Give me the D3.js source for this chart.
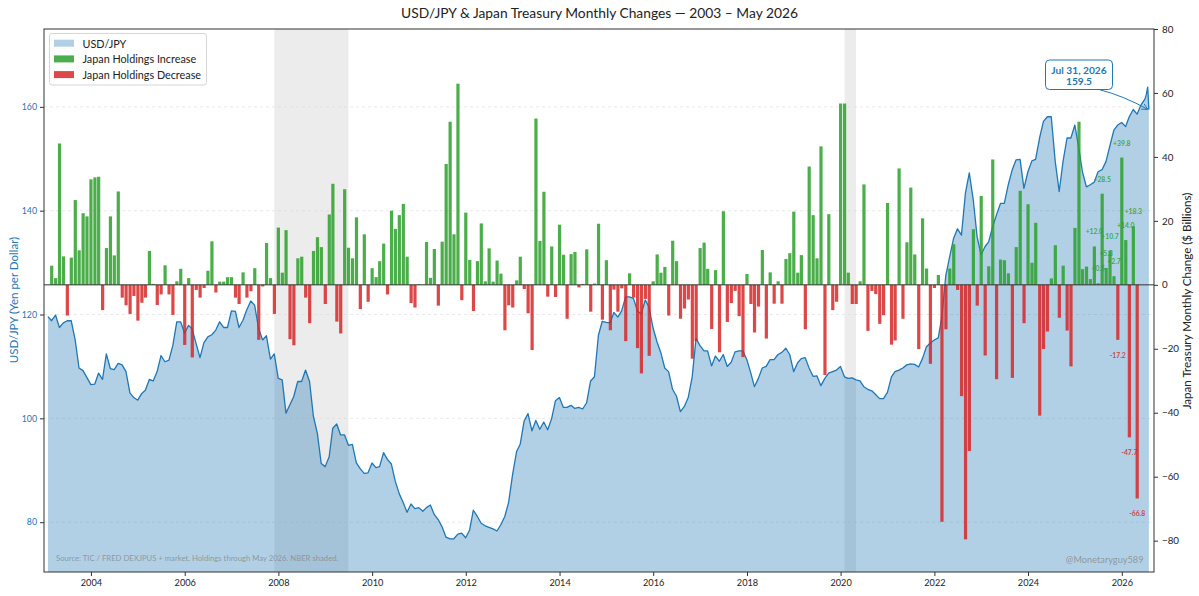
<!DOCTYPE html>
<html>
<head>
<meta charset="utf-8">
<script src="https://cdn.jsdelivr.net/npm/d3@7"></script>
<style>
  body { margin: 0; background: #fff; }
  svg { display: block; }
  text { font-family: Lato, "Noto Sans", sans-serif; }
</style>
</head>
<body>
<div id="chart"></div>
<script>
// USD/JPY month-end closes, Jan 2003 .. Jul 2026
var usdjpy = [
  119.6,118.8,119.9,117.5,118.4,118.8,118.8,115.1,109.7,109.2,107.9,106.5,
  106.6,108.7,107.5,112.4,109.6,109.4,110.6,110.3,109.0,104.9,104.0,103.5,
  104.8,105.4,107.5,107.2,109.0,112.1,110.9,111.2,114.0,118.6,118.6,116.4,
  117.9,117.2,114.4,111.7,114.6,115.7,116.1,117.0,118.6,117.5,117.5,120.7,
  120.6,117.5,118.9,120.9,122.6,121.8,117.3,115.1,115.9,111.4,112.4,107.7,
  107.4,101.0,102.6,104.2,107.1,107.1,109.3,107.1,100.4,97.1,91.3,90.7,
  92.6,98.1,98.9,96.8,96.8,94.8,95.0,91.4,90.3,89.4,89.5,91.4,
  90.5,90.7,93.4,92.1,91.2,87.9,85.5,83.8,81.9,83.5,82.6,82.8,
  82.1,82.8,83.3,81.5,80.5,79.1,77.1,76.8,76.8,77.7,77.9,77.0,
  78.5,82.3,81.1,79.8,79.3,79.0,78.7,78.3,79.5,81.1,83.8,89.2,
  93.6,95.0,99.5,100.9,97.6,99.6,97.9,99.3,97.8,99.9,103.4,104.0,
  102.1,102.1,102.5,101.9,102.1,101.8,103.0,107.2,108.0,116.0,118.7,118.5,
  118.4,120.4,119.5,120.7,123.4,123.4,123.1,120.7,120.1,122.8,121.4,117.4,
  114.7,112.7,109.7,109.0,105.6,104.3,101.3,102.3,104.0,108.0,115.4,114.0,
  113.0,113.0,110.1,112.0,111.0,112.3,110.0,110.8,112.8,113.0,113.0,111.3,
  108.7,106.1,107.7,109.7,110.0,111.3,111.3,112.3,112.7,113.5,112.3,109.0,
  110.7,111.5,111.7,109.7,108.1,108.2,106.3,107.7,108.7,109.0,109.3,110.0,
  108.0,107.7,107.8,107.4,107.2,106.1,105.6,105.3,104.6,103.8,103.8,105.0,
  108.0,109.0,109.3,109.7,110.3,110.5,110.4,109.9,111.5,113.8,114.5,115.1,
  115.5,119.5,127.5,131.1,134.7,136.5,135.3,143.4,147.3,142.1,135.0,131.5,
  133.1,134.0,136.9,139.2,141.4,141.4,145.0,147.9,149.8,149.9,144.3,147.5,
  149.6,149.9,154.0,157.2,158.1,158.1,149.5,143.7,149.5,154.0,154.0,156.5,
  152.0,147.5,144.6,145.0,145.5,147.5,147.9,149.5,152.5,155.5,156.5,157.0,
  156.2,158.1,159.5,158.6,160.4,161.5,159.5
];
// intra-month market prints, July 2026
var usdjpyJulyDates = ["2026-07-10", "2026-07-22"];
var usdjpyJulyValues = [162.3, 163.8];

// Japan holdings monthly change ($bn), Mar 2003 .. May 2026
var holdingsChange = [
  6.0,2.1,44.2,8.9,-9.6,8.5,26.5,10.8,22.4,21.4,
  33.0,33.6,33.8,-7.9,11.5,21.4,9.2,29.2,-4.0,-6.4,-9.1,-3.5,
  -11.2,-5.6,-4.0,10.6,0.3,-6.3,-3.0,6.1,-3.0,-9.4,1.1,5.0,
  -18.8,2.1,-22.7,-1.6,-4.0,-1.0,4.4,13.6,-2.4,1.0,1.0,2.4,
  2.4,-4.0,-6.0,3.9,-4.0,-2.0,5.2,-17.2,-0.5,13.1,2.1,-9.1,
  17.9,3.8,17.1,-17.0,-18.9,8.3,8.8,-4.0,-12.0,10.6,14.9,11.8,
  -6.0,22.0,31.6,-11.5,-15.2,29.9,11.6,8.3,21.1,-7.6,15.8,-5.3,
  5.2,2.4,7.4,12.9,-3.0,23.2,17.5,21.8,25.3,8.8,-5.7,-7.1,
  0.2,0.1,13.4,2.2,11.2,-6.5,13.5,37.8,51.0,15.8,62.9,-4.8,
  22.6,7.8,-8.2,7.4,19.2,1.1,11.4,1.0,7.6,3.5,-14.2,-6.4,
  -7.1,1.4,8.8,-1.3,-8.9,-20.4,52.0,13.7,29.1,-3.7,12.0,-3.8,
  18.8,9.4,-10.6,9.6,10.3,-0.8,0.3,11.1,-8.4,0.4,19.1,-10.9,
  7.7,-14.2,-1.5,-8.4,-1.1,-17.6,3.6,-4.0,-19.8,-27.7,-4.4,-22.2,
  1.1,9.5,3.8,5.6,-9.6,13.8,7.4,-10.6,-7.4,-4.6,-23.1,-17.6,
  11.5,13.2,5.0,-13.8,4.6,-21.1,23.0,-11.6,-5.7,-1.9,-9.8,-22.6,
  3.4,-6.0,-14.9,-6.8,10.9,-16.8,3.9,-5.9,1.1,-5.9,8.1,9.9,
  22.9,3.8,9.3,-13.9,37.0,21.8,8.3,43.3,-28.2,22.1,-7.9,-5.3,
  56.7,56.7,3.8,-6.0,-6.0,1.1,31.4,-14.4,-1.9,-2.9,-12.2,-9.5,
  25.6,-18.7,-17.4,36.4,-10.6,13.3,30.4,9.5,-20.1,20.8,5.1,-24.7,
  -1.0,3.1,-74.1,-13.9,5.1,12.7,-1.6,-34.8,-79.6,-52.0,17.4,-6.5,
  27.8,-22.1,5.8,39.2,-29.5,7.9,7.7,3.6,-29.1,11.8,29.4,-12.0,
  25.2,6.9,19.4,-40.9,-20.1,-14.6,2.0,12.4,-10.3,6.0,-14.3,-25.5,
  17.8,51.0,4.9,5.7,1.8,12.0,0.5,28.5,5.3,10.7,2.7,-17.2,
  39.8,14.0,-47.7,18.3,-66.8
];

var recessionStart = ["2007-12-01", "2020-02-01"];
var recessionEnd = ["2009-06-30", "2020-04-30"];
var yearTicks = [2004,2006,2008,2010,2012,2014,2016,2018,2020,2022,2024,2026];
var fxTicks = [80, 100, 120, 140, 160];
var changeTicks = [-80, -60, -40, -20, 0, 20, 40, 60, 80];
var legendLabels = ["USD/JPY", "Japan Holdings Increase", "Japan Holdings Decrease"];
var labelLastN = 12;

var parse = d3.timeParse("%Y-%m-%d");

var width = 1199, height = 596;
var margin = {top: 29, right: 45, bottom: 24, left: 44};
var x0 = margin.left, x1 = width - margin.right;
var yTop = margin.top, yBot = height - margin.bottom;

var blue = "#1f77b4", green = "#2ca02c", red = "#d62728";

var svg = d3.select("#chart").append("svg")
  .attr("width", width)
  .attr("height", height);

var x = d3.scaleTime()
  .domain([new Date(2002, 11, 31), new Date(2026, 8, 9)])
  .range([x0, x1]);
var yFx = d3.scaleLinear().domain([70.4, 175]).range([yBot, yTop]);
var yChg = d3.scaleLinear().domain([-89.8, 80]).range([yBot, yTop]);

// series
var fx = usdjpy.map(function(v, i) { return {date: new Date(2003, i + 1, 0), value: v}; });
usdjpyJulyDates.forEach(function(d, i) { fx.push({date: parse(d), value: usdjpyJulyValues[i]}); });
fx.sort(function(a, b) { return a.date - b.date; });

var bars = holdingsChange.map(function(v, i) { return {date: new Date(2003, 2 + i, 1), value: v, i: i}; });

var plot = svg.append("g");
plot.append("clipPath").attr("id", "clip")
  .append("rect").attr("x", x0).attr("y", yTop).attr("width", x1 - x0).attr("height", yBot - yTop);

// NBER shading
plot.selectAll("rect.rec")
  .data(recessionStart)
  .enter().append("rect")
  .attr("class", "rec")
  .attr("x", function(d) { return x(parse(d)); })
  .attr("width", function(d, i) { return x(parse(recessionEnd[i])) - x(parse(d)); })
  .attr("y", yTop)
  .attr("height", yBot - yTop)
  .attr("fill", "#808080")
  .attr("fill-opacity", 0.15);

// grid
plot.selectAll("line.grid")
  .data(fxTicks)
  .enter().append("line")
  .attr("x1", x0).attr("x2", x1)
  .attr("y1", function(d) { return yFx(d); })
  .attr("y2", function(d) { return yFx(d); })
  .attr("stroke", "#dadada")
  .attr("stroke-width", 0.6)
  .attr("stroke-dasharray", "3,3");

// USD/JPY area + line
var area = d3.area()
  .x(function(d) { return x(d.date); })
  .y0(yBot)
  .y1(function(d) { return yFx(d.value); });
var line = d3.line()
  .x(function(d) { return x(d.date); })
  .y(function(d) { return yFx(d.value); });

plot.append("path").datum(fx)
  .attr("d", area)
  .attr("fill", blue)
  .attr("fill-opacity", 0.35)
  .attr("clip-path", "url(#clip)");
plot.append("path").datum(fx)
  .attr("d", line)
  .attr("fill", "none")
  .attr("stroke", blue)
  .attr("stroke-width", 1.3)
  .attr("stroke-linejoin", "round");

// holdings bars
var halfBar = 12.5 * 24 * 3600 * 1000;
plot.selectAll("rect.bar")
  .data(bars)
  .enter().append("rect")
  .attr("class", "bar")
  .attr("x", function(d) { return x(new Date(+d.date - halfBar)); })
  .attr("width", function(d) { return x(new Date(+d.date + halfBar)) - x(new Date(+d.date - halfBar)); })
  .attr("y", function(d) { return d.value >= 0 ? yChg(d.value) : yChg(0); })
  .attr("height", function(d) { return Math.abs(yChg(d.value) - yChg(0)); })
  .attr("fill", function(d) { return d.value >= 0 ? green : red; })
  .attr("fill-opacity", 0.85);

// zero line
plot.append("line")
  .attr("x1", x0).attr("x2", x1)
  .attr("y1", yChg(0)).attr("y2", yChg(0))
  .attr("stroke", "#333")
  .attr("stroke-width", 1);

// value labels on the latest bars
plot.selectAll("text.vlab")
  .data(bars.slice(-labelLastN))
  .enter().append("text")
  .attr("class", "vlab")
  .attr("x", function(d) { return x(d.date); })
  .attr("y", function(d) { return yChg(d.value) + (d.value >= 0 ? -15 : 15); })
  .attr("text-anchor", "middle")
  .attr("dominant-baseline", "central")
  .attr("font-size", 6.8)
  .attr("font-weight", "bold")
  .attr("fill", function(d) { return d.value >= 0 ? green : red; })
  .attr("fill-opacity", 0.85)
  .text(function(d) { return (d.value >= 0 ? "+" : "") + d.value.toFixed(1); });

// frame
svg.append("rect")
  .attr("x", x0).attr("y", yTop)
  .attr("width", x1 - x0).attr("height", yBot - yTop)
  .attr("fill", "none")
  .attr("stroke", "#333")
  .attr("stroke-width", 1);

// axes
var axL = svg.append("g")
  .attr("transform", "translate(" + x0 + ",0)")
  .call(d3.axisLeft(yFx).tickValues(fxTicks).tickSize(4).tickPadding(3));
axL.selectAll("text").attr("fill", blue).attr("font-size", 8.8).style("font-family", "Lato");
axL.selectAll("line").attr("stroke", "#333");

var axR = svg.append("g")
  .attr("transform", "translate(" + x1 + ",0)")
  .call(d3.axisRight(yChg).tickValues(changeTicks).tickSize(4).tickPadding(4));
axR.selectAll("text").attr("fill", "#222").attr("font-size", 9.8).style("font-family", "Lato");
axR.selectAll("line").attr("stroke", "#333");

var axB = svg.append("g")
  .attr("transform", "translate(0," + yBot + ")")
  .call(d3.axisBottom(x)
    .tickValues(yearTicks.map(function(y) { return new Date(y, 0, 1); }))
    .tickFormat(d3.timeFormat("%Y"))
    .tickSize(4).tickPadding(3));
axB.selectAll("text").attr("fill", "#222").attr("font-size", 9.2).style("font-family", "Lato");
axB.selectAll("line").attr("stroke", "#333");
svg.selectAll(".domain").remove();

// axis titles
svg.append("text")
  .attr("transform", "translate(13,300) rotate(-90)")
  .attr("text-anchor", "middle")
  .attr("dominant-baseline", "central")
  .attr("font-size", 11.5)
  .attr("fill", blue)
  .text("USD/JPY (Yen per Dollar)");
svg.append("text")
  .attr("transform", "translate(1186,301) rotate(-90)")
  .attr("text-anchor", "middle")
  .attr("dominant-baseline", "central")
  .attr("font-size", 11.6)
  .attr("fill", "#222")
  .text("Japan Treasury Monthly Change ($ Billions)");

// title
svg.append("text")
  .attr("x", width / 2).attr("y", 18)
  .attr("text-anchor", "middle")
  .attr("font-size", 13.8)
  .attr("fill", "#222")
  .text("USD/JPY & Japan Treasury Monthly Changes \u2014 2003 \u2013 May 2026");

// legend
var leg = svg.append("g");
leg.append("rect")
  .attr("x", 49.5).attr("y", 33.5).attr("width", 157).attr("height", 51.5)
  .attr("rx", 2.5)
  .attr("fill", "#fff").attr("fill-opacity", 0.8)
  .attr("stroke", "#ccc").attr("stroke-width", 0.8);
var legColors = [blue, green, red];
var legOpac = [0.35, 0.85, 0.85];
legendLabels.forEach(function(t, i) {
  var cy = 43.2 + i * 15.7;
  leg.append("rect")
    .attr("x", 54).attr("y", cy - 3.5).attr("width", 20).attr("height", 7)
    .attr("fill", legColors[i]).attr("fill-opacity", legOpac[i]);
  leg.append("text")
    .attr("x", 82.5).attr("y", cy)
    .attr("dominant-baseline", "central")
    .attr("font-size", 10.8)
    .attr("fill", "#222")
    .text(t);
});

// latest value annotation
var last = fx[fx.length - 1];
svg.append("defs").append("marker")
  .attr("id", "arr")
  .attr("viewBox", "0 0 8 8")
  .attr("refX", 7).attr("refY", 4)
  .attr("markerWidth", 7).attr("markerHeight", 7)
  .attr("orient", "auto")
  .append("path")
  .attr("d", "M0,0.5 L7,4 L0,7.5")
  .attr("fill", "none")
  .attr("stroke", blue)
  .attr("stroke-width", 1);
var ax = x(last.date), ay = yFx(last.value);
svg.append("path")
  .attr("d", "M1099," + 89.5 + " Q1124,96 " + (ax - 1) + "," + ay)
  .attr("fill", "none")
  .attr("stroke", blue)
  .attr("stroke-width", 1)
  .attr("marker-end", "url(#arr)");
svg.append("rect")
  .attr("x", 1045.5).attr("y", 60).attr("width", 67).attr("height", 29.5)
  .attr("rx", 4)
  .attr("fill", "#fff")
  .attr("stroke", blue)
  .attr("stroke-width", 1);
var fmtDay = d3.timeFormat("%b %-d, %Y");
svg.append("text")
  .attr("x", 1079).attr("y", 69.5)
  .attr("text-anchor", "middle").attr("dominant-baseline", "central")
  .attr("font-size", 10.2).attr("font-weight", "bold").attr("fill", blue)
  .text(fmtDay(last.date));
svg.append("text")
  .attr("x", 1079).attr("y", 80.5)
  .attr("text-anchor", "middle").attr("dominant-baseline", "central")
  .attr("font-size", 10.2).attr("font-weight", "bold").attr("fill", blue)
  .text(last.value.toFixed(1));

// footnotes
svg.append("text")
  .attr("x", 56).attr("y", 560.5)
  .attr("font-size", 7.7)
  .attr("fill", "#888")
  .attr("fill-opacity", 0.8)
  .text("Source: TIC / FRED DEXJPUS + market. Holdings through May 2026. NBER shaded.");
svg.append("text")
  .attr("x", 1143.5).attr("y", 562.5)
  .attr("text-anchor", "end")
  .attr("font-size", 9.2)
  .attr("fill", "#888")
  .attr("fill-opacity", 0.8)
  .text("@Monetaryguy589");
</script>
</body>
</html>
